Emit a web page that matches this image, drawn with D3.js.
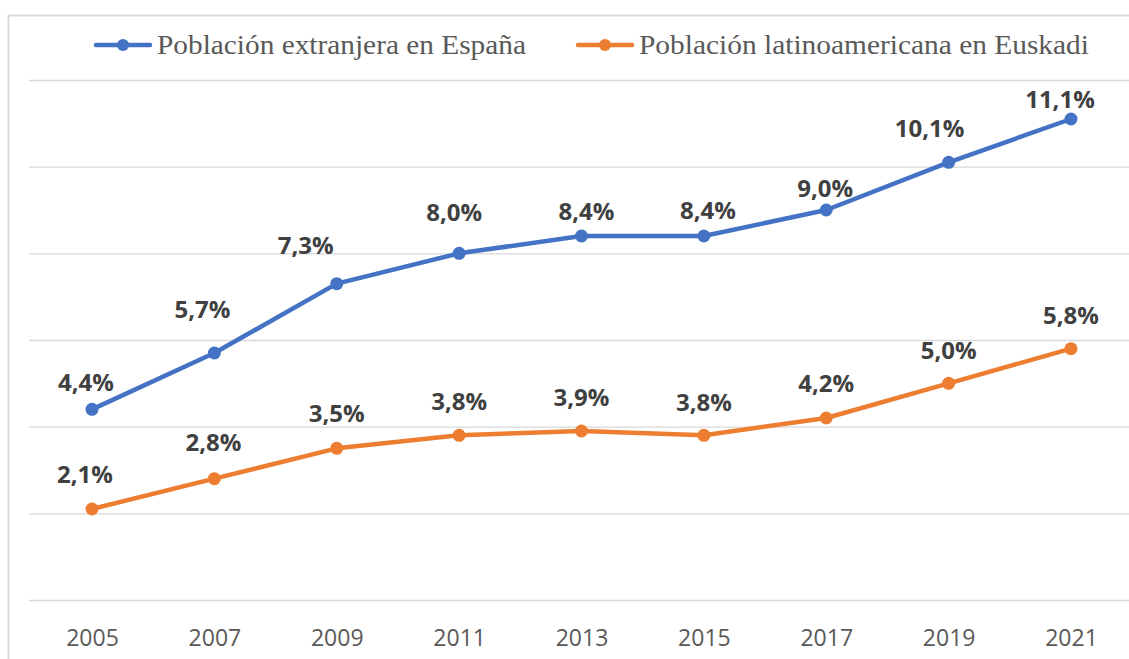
<!DOCTYPE html>
<html><head><meta charset="utf-8">
<script src="https://cdn.jsdelivr.net/npm/d3@7"></script>
<style>body{margin:0;background:#fff}svg{display:block}</style>
</head><body>
<svg id="c" width="1129" height="659"></svg>
<script>
const years = ["2005","2007","2009","2011","2013","2015","2017","2019","2021"];
const espana = [4.4,5.7,7.3,8.0,8.4,8.4,9.0,10.1,11.1];
const euskadi = [2.1,2.8,3.5,3.8,3.9,3.8,4.2,5.0,5.8];
const seriesNames = ["Población extranjera en España","Población latinoamericana en Euskadi"];
const yTicks = [0,2,4,6,8,10,12];
// label nudges (px) for the series labels, as placed in the original
const espanaLabelDx = [-6,-12,-31,-5,5,4,-1,-19,-11];
const espanaLabelDy = [-27,-44,-38,-41,-25,-26,-22,-34,-20];
const euskadiLabelDx = [-7,-1,0,0,0,0,0,0,0];
const euskadiLabelDy = [-35,-36,-35,-34,-34,-33,-35,-33,-33];

const svg = d3.select("#c");
const x = d3.scalePoint().domain(years).range([92,1071]);
const y = d3.scaleLinear().domain([0,12]).range([600,80]);

// frame
svg.append("path").attr("d","M8.5,659 V15.5 H1129").attr("fill","none").attr("stroke","#D9D9D9").attr("stroke-width",2);

// gridlines
svg.append("g").selectAll("line").data(yTicks).join("line")
  .attr("x1",29).attr("x2",1129).attr("y1",d=>y(d)+0.5).attr("y2",d=>y(d)+0.5)
  .attr("stroke","#D9D9D9").attr("stroke-width",1.3);

// x axis labels
const xa = d3.axisBottom(x).tickSize(0).tickPadding(0);
const gx = svg.append("g").attr("transform","translate(0,600)").call(xa);
gx.select(".domain").remove();
gx.selectAll("text").attr("y",46).attr("dy",0)
  .attr("font-family","'Open Sans', sans-serif").attr("font-size",23).attr("fill","#595959");

const series = [
  {vals:espana,color:"#4472C4",dx:espanaLabelDx,dy:espanaLabelDy},
  {vals:euskadi,color:"#ED7D31",dx:euskadiLabelDx,dy:euskadiLabelDy}
];
const line = d3.line().x((d,i)=>x(years[i])).y(d=>y(d));
series.forEach(s=>{
  svg.append("path").datum(s.vals).attr("d",line).attr("fill","none")
    .attr("stroke",s.color).attr("stroke-width",4.5).attr("stroke-linejoin","round");
  svg.append("g").selectAll("circle").data(s.vals).join("circle")
    .attr("cx",(d,i)=>x(years[i])).attr("cy",d=>y(d)).attr("r",6.5).attr("fill",s.color);
  svg.append("g").selectAll("text").data(s.vals).join("text")
    .attr("x",(d,i)=>x(years[i])+s.dx[i]).attr("y",(d,i)=>y(d)+s.dy[i])
    .attr("dy","0.36em").attr("text-anchor","middle")
    .attr("font-family","'Open Sans', sans-serif").attr("font-weight","bold")
    .attr("font-size",24).attr("fill","#404040")
    .text(d=>d.toFixed(1).replace(".",",")+"%");
});

// legend
const legendItems = [
  {name:seriesNames[0],color:"#4472C4",x0:96,len:369},
  {name:seriesNames[1],color:"#ED7D31",x0:578,len:450}
];
legendItems.forEach(l=>{
  const g = svg.append("g");
  g.append("line").attr("x1",l.x0).attr("x2",l.x0+54).attr("y1",45).attr("y2",45)
    .attr("stroke",l.color).attr("stroke-width",4.5).attr("stroke-linecap","round");
  g.append("circle").attr("cx",l.x0+27).attr("cy",45).attr("r",6).attr("fill",l.color);
  g.append("text").attr("x",l.x0+61).attr("y",54)
    .attr("font-family","'Liberation Serif', serif").attr("font-size",27).attr("fill","#595959")
    .attr("textLength",l.len).attr("lengthAdjust","spacingAndGlyphs")
    .text(l.name);
});
</script>
</body></html>
